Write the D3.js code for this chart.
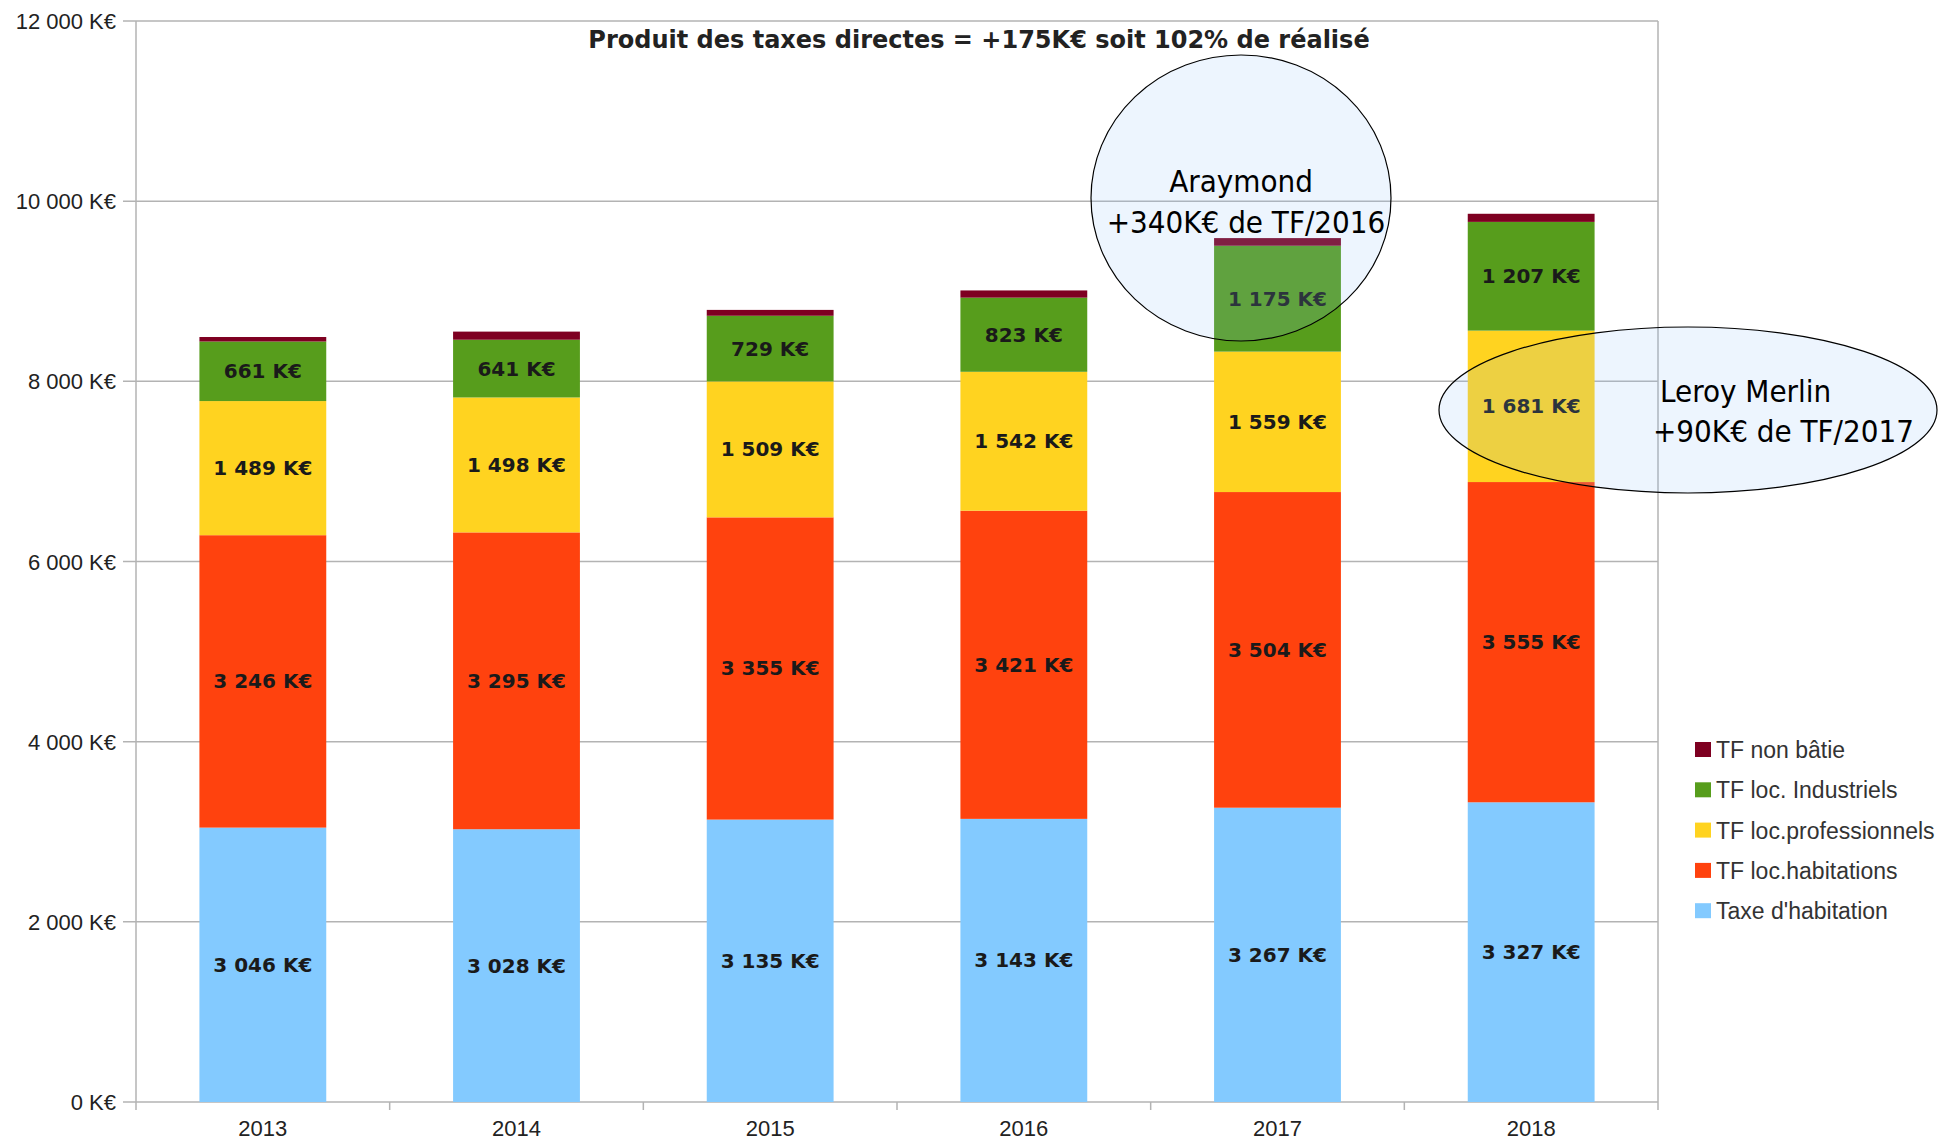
<!DOCTYPE html>
<html>
<head>
<meta charset="utf-8">
<script src="https://cdn.jsdelivr.net/npm/d3@7"></script>
<style>
  body { margin: 0; background: #fff; }
</style>
</head>
<body>
<svg id="chart"></svg>
<script>
const years = ["2013", "2014", "2015", "2016", "2017", "2018"];
const taxeHabitation = [3046, 3028, 3135, 3143, 3267, 3327];
const tfHabitations = [3246, 3295, 3355, 3421, 3504, 3555];
const tfProfessionnels = [1489, 1498, 1509, 1542, 1559, 1681];
const tfIndustriels = [661, 641, 729, 823, 1175, 1207];
const tfNonBatie = [50, 90, 65, 80, 85, 90];
const yTicks = [0, 2000, 4000, 6000, 8000, 10000, 12000];
const title = "Produit des taxes directes = +175K€ soit 102% de réalisé";

const series = [
  { name: "Taxe d'habitation", values: taxeHabitation, color: "#83caff", label: true },
  { name: "TF loc.habitations", values: tfHabitations, color: "#ff420e", label: true },
  { name: "TF loc.professionnels", values: tfProfessionnels, color: "#ffd320", label: true },
  { name: "TF loc. Industriels", values: tfIndustriels, color: "#579d1c", label: true },
  { name: "TF non bâtie", values: tfNonBatie, color: "#7e0021", label: false }
];

const W = 1944, H = 1142;
const plotL = 136, plotR = 1658, plotT = 21, plotB = 1102;

const svg = d3.select("#chart").attr("width", W).attr("height", H);

const x = d3.scaleBand().domain(years).range([plotL, plotR])
  .paddingInner(0.5).paddingOuter(0.25);
const y = d3.scaleLinear().domain([0, 12000]).range([plotB, plotT]);

// grille
svg.append("g").selectAll("line").data(yTicks).enter().append("line")
  .attr("x1", plotL - 13).attr("x2", plotR)
  .attr("y1", d => y(d)).attr("y2", d => y(d))
  .attr("stroke", "#b3b3b3").attr("stroke-width", 1.5);

svg.append("line").attr("x1", plotL).attr("x2", plotL).attr("y1", plotT).attr("y2", plotB + 8)
  .attr("stroke", "#b3b3b3").attr("stroke-width", 1.5);
svg.append("line").attr("x1", plotR).attr("x2", plotR).attr("y1", plotT).attr("y2", plotB + 8)
  .attr("stroke", "#b3b3b3").attr("stroke-width", 1.5);

// ticks x entre les categories
const step = x.step();
svg.append("g").selectAll("line").data(d3.range(1, years.length)).enter().append("line")
  .attr("x1", d => plotL + d * step).attr("x2", d => plotL + d * step)
  .attr("y1", plotB).attr("y2", plotB + 8)
  .attr("stroke", "#b3b3b3").attr("stroke-width", 1.5);

// labels axe y
svg.append("g").selectAll("text").data(yTicks).enter().append("text")
  .attr("x", plotL - 20).attr("y", d => y(d) + 8)
  .attr("text-anchor", "end")
  .style("font-family", "'Liberation Sans', Arial, sans-serif")
  .style("font-size", "22px").attr("fill", "#222")
  .text(d => d3.format(",")(d).replace(/,/g, " ") + " K€");

// labels axe x
svg.append("g").selectAll("text").data(years).enter().append("text")
  .attr("x", d => x(d) + x.bandwidth() / 2).attr("y", plotB + 34)
  .attr("text-anchor", "middle")
  .style("font-family", "'Liberation Sans', Arial, sans-serif")
  .style("font-size", "22px").attr("fill", "#222")
  .text(d => d);

// empilement
const rows = years.map((yr, i) => {
  const r = { year: yr };
  series.forEach(s => r[s.name] = s.values[i]);
  return r;
});
const stack = d3.stack().keys(series.map(s => s.name))(rows);

const layers = svg.append("g").selectAll("g").data(stack).enter().append("g")
  .attr("fill", (d, i) => series[i].color);

layers.selectAll("rect").data(d => d).enter().append("rect")
  .attr("x", d => x(d.data.year))
  .attr("width", x.bandwidth())
  .attr("y", d => y(d[1]))
  .attr("height", d => y(d[0]) - y(d[1]));

stack.forEach((layer, i) => {
  if (!series[i].label) return;
  svg.append("g").selectAll("text").data(layer).enter().append("text")
    .attr("x", d => x(d.data.year) + x.bandwidth() / 2)
    .attr("y", d => (y(d[0]) + y(d[1])) / 2 + 7)
    .attr("text-anchor", "middle")
    .style("font-family", "'DejaVu Sans', sans-serif")
    .style("font-weight", "bold")
    .style("font-size", "20px").attr("fill", "#1a1a1a")
    .text(d => d3.format(",")(d[1] - d[0]).replace(/,/g, " ") + " K€");
});

// titre
svg.append("text").attr("x", 979).attr("y", 48).attr("text-anchor", "middle")
  .style("font-family", "'DejaVu Sans', sans-serif")
  .style("font-weight", "bold")
  .style("font-size", "24px").attr("fill", "#222")
  .text(title);

// annotations
const notes = [
  { cx: 1241, cy: 198, rx: 150, ry: 143,
    lines: [{ t: "Araymond", x: 1241, y: 192, a: "middle" }, { t: "+340K€ de TF/2016", x: 1246, y: 233, a: "middle" }] },
  { cx: 1688, cy: 410, rx: 249, ry: 83,
    lines: [{ t: "Leroy Merlin", x: 1660, y: 402, a: "start" }, { t: "+90K€ de TF/2017", x: 1653, y: 442, a: "start" }] }
];

notes.forEach(n => {
  svg.append("ellipse").attr("cx", n.cx).attr("cy", n.cy).attr("rx", n.rx).attr("ry", n.ry)
    .attr("fill", "#8ec3f8").attr("fill-opacity", 0.16)
    .attr("stroke", "#000").attr("stroke-width", 1.2);
  n.lines.forEach(l => {
    svg.append("text").attr("x", l.x).attr("y", l.y).attr("text-anchor", l.a)
      .style("font-family", "'DejaVu Sans Condensed', 'DejaVu Sans', sans-serif")
      .style("font-size", "31px").attr("fill", "#000")
      .text(l.t);
  });
});

// legende
const legend = svg.append("g").selectAll("g").data(series.slice().reverse()).enter().append("g")
  .attr("transform", (d, i) => "translate(1695," + (750 + i * 40.3) + ")");
legend.append("rect").attr("x", 0).attr("y", -8).attr("width", 16).attr("height", 15)
  .attr("fill", d => d.color);
legend.append("text").attr("x", 21).attr("y", 8)
  .style("font-family", "'Liberation Sans', Arial, sans-serif")
  .style("font-size", "23px").attr("fill", "#333")
  .text(d => d.name);
</script>
</body>
</html>
